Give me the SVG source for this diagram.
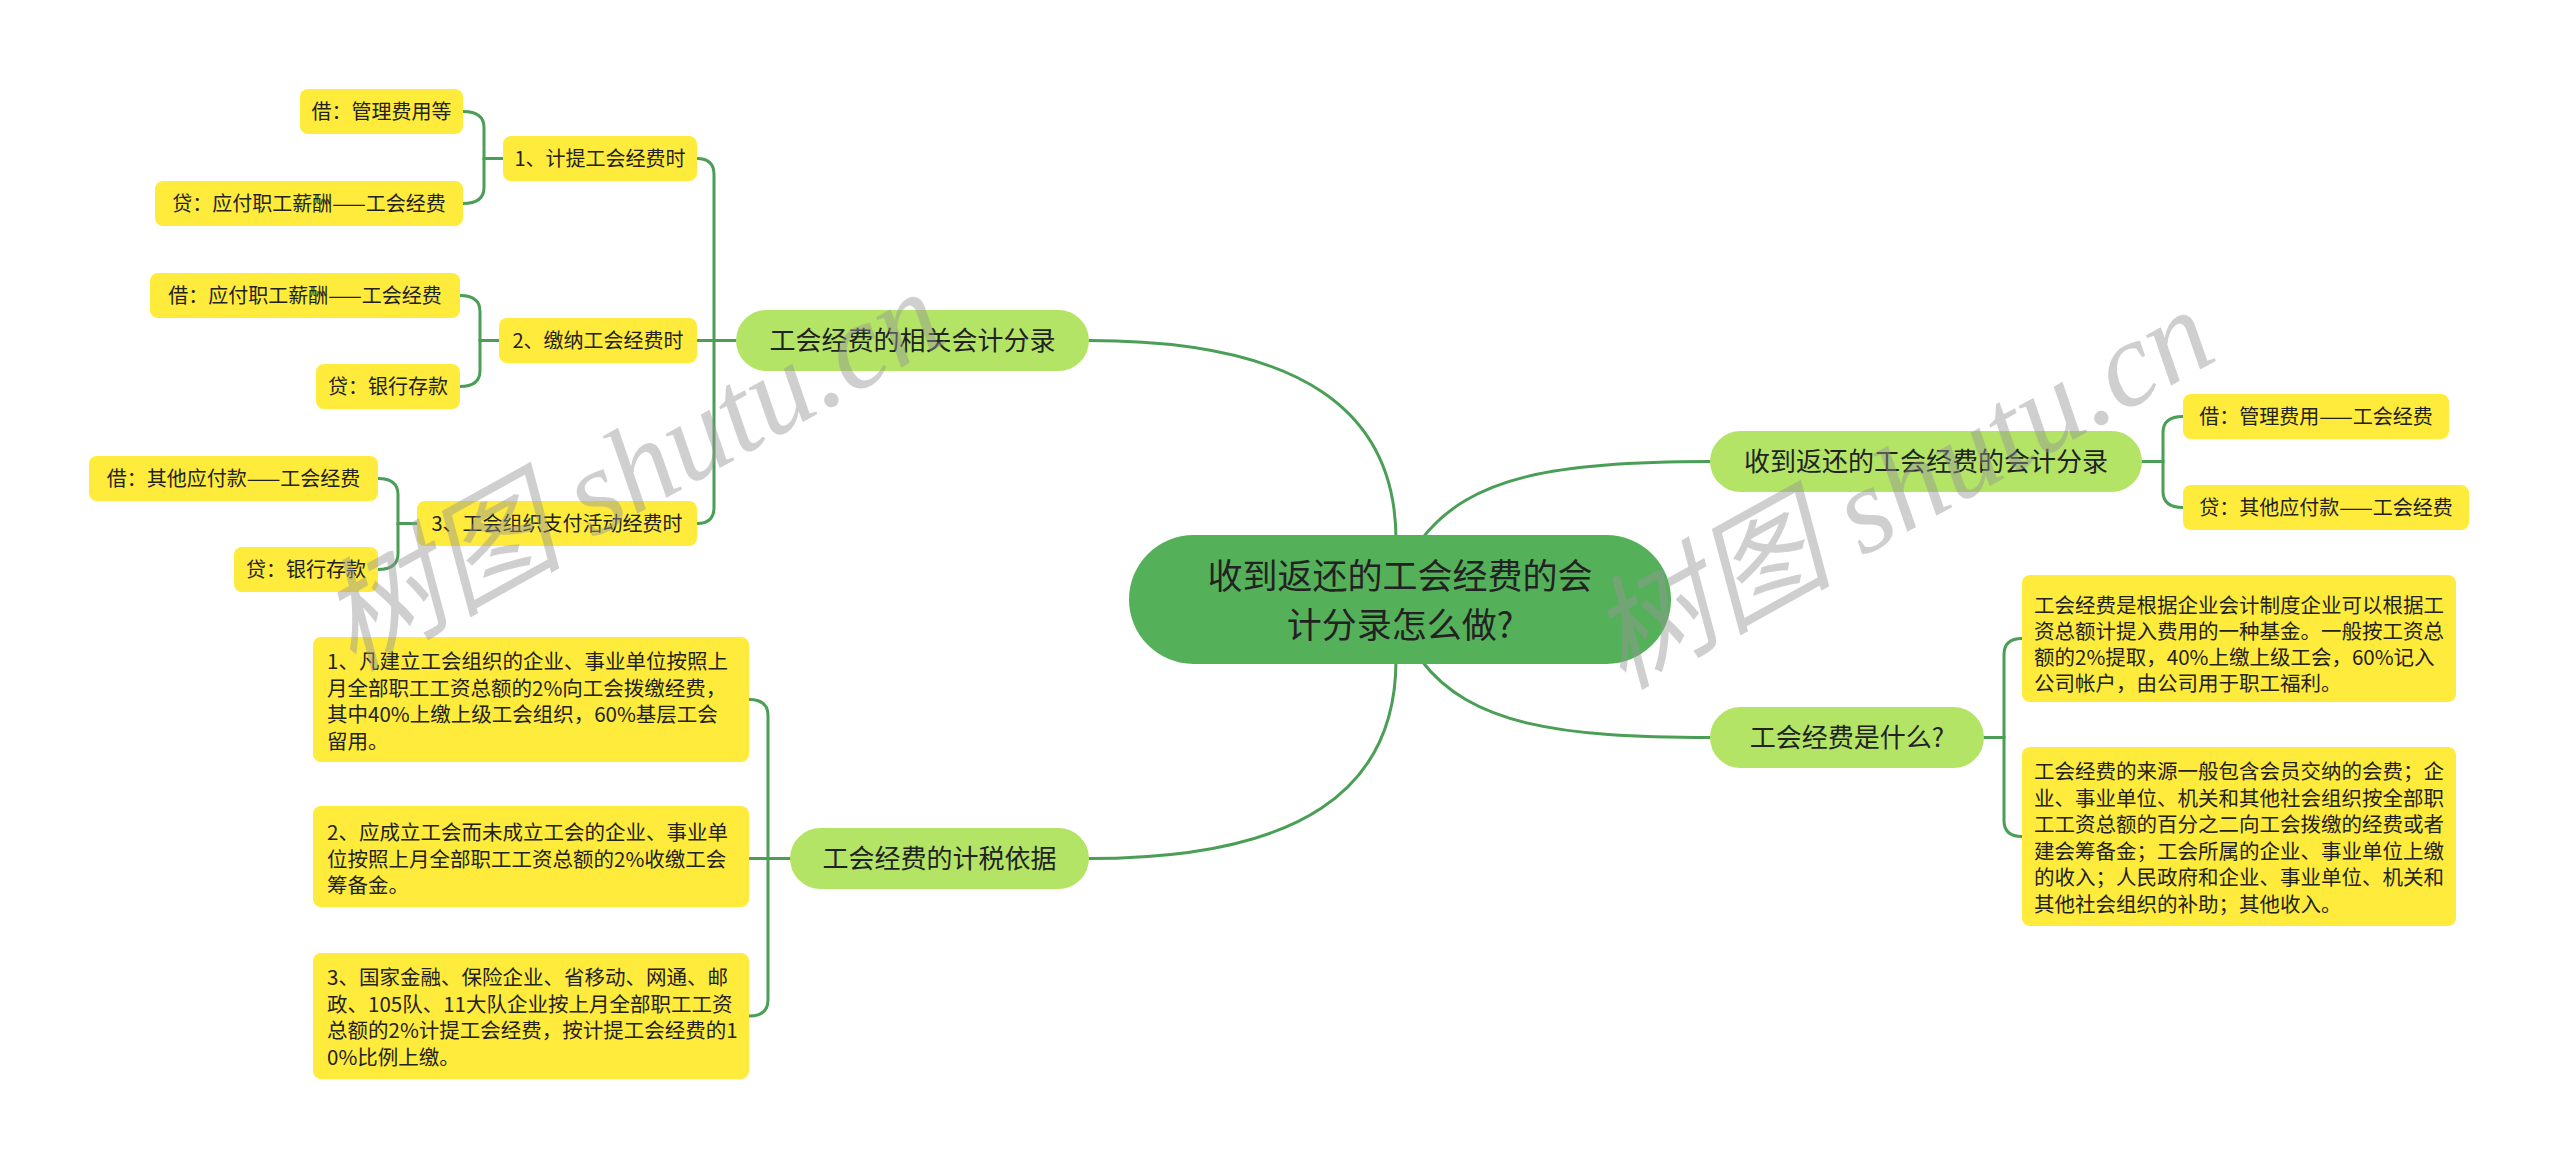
<svg xmlns="http://www.w3.org/2000/svg" width="2560" height="1169" viewBox="0 0 2560 1169">
<style>
.bg{fill:#ffffff}
.ln{fill:none;stroke:#4a9e55;stroke-width:3;stroke-linecap:round}
.root{fill:#55b05a}
.br{fill:#b3e466}
.lf{fill:#ffeb3b}
.t{font-family:"Noto Sans CJK SC","Noto Sans",sans-serif;fill:#222222}
.tr{font-size:35px;text-anchor:middle}
.tb{font-size:26px;text-anchor:middle}
.tl{font-size:20px;text-anchor:middle}
.tm{font-size:20.5px}
.wm{font-family:"Liberation Serif","Noto Sans CJK SC",serif;font-style:italic;font-size:122px;fill:#969696;opacity:0.45}
</style>
<rect class="bg" x="0" y="0" width="2560" height="1169"/>

<g id="connectors">
  <path class="ln" d="M1396,540 C1396,410 1300,340.5 1089,340.5"/>
  <path class="ln" d="M1396,660 C1396,790 1300,858.5 1089,858.5"/>
  <path class="ln" d="M1421,540 C1470,475 1560,461.5 1710,461.5"/>
  <path class="ln" d="M1421,660 C1470,725 1560,737.5 1710,737.5"/>

  <path class="ln" d="M736,340.5 H714 V174.5 Q714,158.5 697,158.5"/>
  <path class="ln" d="M736,340.5 H697"/>
  <path class="ln" d="M736,340.5 H714 V507.5 Q714,523.5 697,523.5"/>

  <path class="ln" d="M503,158.5 H484 V127.5 Q484,111.5 463,111.5"/>
  <path class="ln" d="M503,158.5 H484 V187.5 Q484,203.5 463,203.5"/>
  <path class="ln" d="M499,340.5 H480 V311.5 Q480,295.5 460,295.5"/>
  <path class="ln" d="M499,340.5 H480 V370.5 Q480,386.5 460,386.5"/>
  <path class="ln" d="M417,523.5 H398 V494.5 Q398,478.5 378,478.5"/>
  <path class="ln" d="M417,523.5 H398 V553.5 Q398,569.5 378,569.5"/>

  <path class="ln" d="M790,858.5 H768 V715.5 Q768,699.5 749,699.5"/>
  <path class="ln" d="M790,858.5 H749"/>
  <path class="ln" d="M790,858.5 H768 V1000 Q768,1016 749,1016"/>

  <path class="ln" d="M2142,461.5 H2163 V432.5 Q2163,416.5 2183,416.5"/>
  <path class="ln" d="M2142,461.5 H2163 V491.5 Q2163,507.5 2183,507.5"/>

  <path class="ln" d="M1984,737.5 H2004 V654.5 Q2004,638.5 2022,638.5"/>
  <path class="ln" d="M1984,737.5 H2004 V820.5 Q2004,836.5 2022,836.5"/>
</g>

<g id="root">
  <rect class="root" x="1129" y="535" width="542" height="129" rx="64.5"/>
  <text class="t tr" x="1400" y="589">收到返还的工会经费的会</text>
  <text class="t tr" x="1400" y="638">计分录怎么做?</text>
</g>

<g id="branch-entries">
  <rect class="br" x="736" y="310" width="353" height="61" rx="30.5"/>
  <text class="t tb" x="912.5" y="349.5">工会经费的相关会计分录</text>
</g>
<g id="leaf-1">
  <rect class="lf" x="503" y="136" width="194" height="45" rx="8"/>
  <text class="t tl" x="600" y="165.5">1、计提工会经费时</text>
</g>
<g id="leaf-1a">
  <rect class="lf" x="300" y="89" width="163" height="45" rx="8"/>
  <text class="t tl" x="381.5" y="118.5">借：管理费用等</text>
</g>
<g id="leaf-1b">
  <rect class="lf" x="155" y="181" width="308" height="45" rx="8"/>
  <text class="t tl" x="309" y="210.5">贷：应付职工薪酬——工会经费</text>
</g>
<g id="leaf-2">
  <rect class="lf" x="499" y="318" width="198" height="45" rx="8"/>
  <text class="t tl" x="598" y="347.5">2、缴纳工会经费时</text>
</g>
<g id="leaf-2a">
  <rect class="lf" x="150" y="273" width="310" height="45" rx="8"/>
  <text class="t tl" x="305" y="302.5">借：应付职工薪酬——工会经费</text>
</g>
<g id="leaf-2b">
  <rect class="lf" x="316" y="364" width="144" height="45" rx="8"/>
  <text class="t tl" x="388" y="393.5">贷：银行存款</text>
</g>
<g id="leaf-3">
  <rect class="lf" x="417" y="501" width="280" height="45" rx="8"/>
  <text class="t tl" x="557" y="530.5">3、工会组织支付活动经费时</text>
</g>
<g id="leaf-3a">
  <rect class="lf" x="89" y="456" width="289" height="45" rx="8"/>
  <text class="t tl" x="233.5" y="485.5">借：其他应付款——工会经费</text>
</g>
<g id="leaf-3b">
  <rect class="lf" x="234" y="547" width="144" height="45" rx="8"/>
  <text class="t tl" x="306" y="576.5">贷：银行存款</text>
</g>

<g id="branch-tax">
  <rect class="br" x="790" y="828" width="299" height="61" rx="30.5"/>
  <text class="t tb" x="939.5" y="867.5">工会经费的计税依据</text>
</g>
<g id="tax-1">
  <rect class="lf" x="313" y="637" width="436" height="125" rx="8"/>
  <text class="t tm" x="327"><tspan x="327" y="669">1、凡建立工会组织的企业、事业单位按照上</tspan><tspan x="327" y="695.5">月全部职工工资总额的2%向工会拨缴经费，</tspan><tspan x="327" y="722">其中40%上缴上级工会组织，60%基层工会</tspan><tspan x="327" y="748.5">留用。</tspan></text>
</g>
<g id="tax-2">
  <rect class="lf" x="313" y="806" width="436" height="101" rx="8"/>
  <text class="t tm" x="327"><tspan x="327" y="840">2、应成立工会而未成立工会的企业、事业单</tspan><tspan x="327" y="866.5">位按照上月全部职工工资总额的2%收缴工会</tspan><tspan x="327" y="893">筹备金。</tspan></text>
</g>
<g id="tax-3">
  <rect class="lf" x="313" y="953" width="436" height="126" rx="8"/>
  <text class="t tm" x="327"><tspan x="327" y="985">3、国家金融、保险企业、省移动、网通、邮</tspan><tspan x="327" y="1011.5">政、105队、11大队企业按上月全部职工工资</tspan><tspan x="327" y="1038">总额的2%计提工会经费，按计提工会经费的1</tspan><tspan x="327" y="1064.5">0%比例上缴。</tspan></text>
</g>

<g id="branch-return">
  <rect class="br" x="1710" y="431" width="432" height="61" rx="30.5"/>
  <text class="t tb" x="1926" y="470.5">收到返还的工会经费的会计分录</text>
</g>
<g id="return-1">
  <rect class="lf" x="2183" y="394" width="266" height="45" rx="8"/>
  <text class="t tl" x="2316" y="423.5">借：管理费用——工会经费</text>
</g>
<g id="return-2">
  <rect class="lf" x="2183" y="485" width="286" height="45" rx="8"/>
  <text class="t tl" x="2326" y="514.5">贷：其他应付款——工会经费</text>
</g>

<g id="branch-what">
  <rect class="br" x="1710" y="707" width="274" height="61" rx="30.5"/>
  <text class="t tb" x="1847" y="746.5">工会经费是什么?</text>
</g>
<g id="what-1">
  <rect class="lf" x="2022" y="575" width="434" height="127" rx="8"/>
  <text class="t tm" x="2034"><tspan x="2034" y="613">工会经费是根据企业会计制度企业可以根据工</tspan><tspan x="2034" y="639">资总额计提入费用的一种基金。一般按工资总</tspan><tspan x="2034" y="665">额的2%提取，40%上缴上级工会，60%记入</tspan><tspan x="2034" y="691">公司帐户，由公司用于职工福利。</tspan></text>
</g>
<g id="what-2">
  <rect class="lf" x="2022" y="747" width="434" height="179" rx="8"/>
  <text class="t tm" x="2034"><tspan x="2034" y="779">工会经费的来源一般包含会员交纳的会费；企</tspan><tspan x="2034" y="805.5">业、事业单位、机关和其他社会组织按全部职</tspan><tspan x="2034" y="832">工工资总额的百分之二向工会拨缴的经费或者</tspan><tspan x="2034" y="858.5">建会筹备金；工会所属的企业、事业单位上缴</tspan><tspan x="2034" y="885">的收入；人民政府和企业、事业单位、机关和</tspan><tspan x="2034" y="911.5">其他社会组织的补助；其他收入。</tspan></text>
</g>

<g id="watermark">
  <text class="wm" transform="translate(352,672) rotate(-29)">树图 shutu.cn</text>
  <text class="wm" transform="translate(1622,690) rotate(-29)">树图 shutu.cn</text>
</g>
</svg>
